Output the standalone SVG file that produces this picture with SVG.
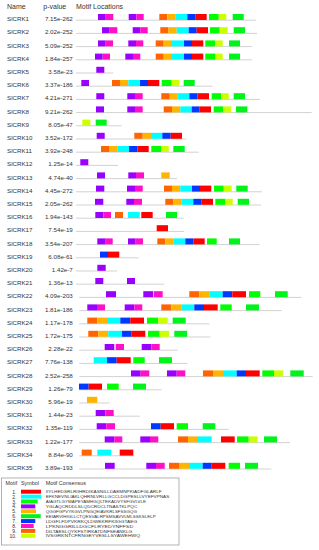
<svg xmlns="http://www.w3.org/2000/svg" width="319" height="550" viewBox="0 0 319 550">
<style>
text{font-family:"Liberation Sans",Arial,sans-serif;fill:#333}
.h{font-size:7px}
.n{font-size:6.2px}
.v{font-size:6.2px;text-anchor:end}
.ln{stroke:#d2d2d2;stroke-width:1}
.m1{fill:#ff0000}.m2{fill:#00ffff}.m3{fill:#00ff00}.m4{fill:#9a00ff}.m5{fill:#ffb400}
.m6{fill:#00f31a}.m7{fill:#0038ff}.m8{fill:#ff10c8}.m9{fill:#ff6400}.m10{fill:#ccff00}
.lh{font-size:5.4px}
.ln2{font-size:5px;text-anchor:end}
.sq{font-size:4.2px}
</style>
<rect width="319" height="550" fill="#fff"/>
<g id="header">
<text class="h" x="7" y="9">Name</text>
<text class="h" x="43.3" y="9">p-value</text>
<text class="h" x="76" y="9">Motif Locations</text>
</g>
<g id="connectors"></g>

<g id="SlCRK1" transform="translate(0,14)">
<text class="n" x="7" y="7.3">SlCRK1</text><text class="v" x="72.8" y="7.3">7.15e-262</text>
<line class="ln" x1="76" y1="6.2" x2="256" y2="6.2"/>
<rect class="m4" x="98" y="0" width="7.7" height="6"/><rect class="m8" x="105.7" y="0" width="7.6" height="6"/>
<rect class="m4" x="128.7" y="0" width="7.6" height="6"/><rect class="m8" x="136.3" y="0" width="7.4" height="6"/>
<rect class="m9" x="159.3" y="0" width="8" height="6"/><rect class="m5" x="167.3" y="0" width="8" height="6"/><rect class="m2" x="175.3" y="0" width="12" height="6"/><rect class="m7" x="187.3" y="0" width="8.4" height="6"/><rect class="m1" x="195.7" y="0" width="11" height="6"/>
<rect class="m3" x="209" y="0" width="9.7" height="6"/><rect class="m10" x="218.7" y="0" width="7.6" height="6"/><rect class="m6" x="232.7" y="0" width="11" height="6"/>
</g>
<g id="SlCRK2" transform="translate(0,27.2)">
<text class="n" x="7" y="7.3">SlCRK2</text><text class="v" x="72.8" y="7.3">2.02e-252</text>
<line class="ln" x1="76" y1="6.2" x2="257" y2="6.2"/>
<rect class="m4" x="102" y="0" width="7.7" height="6"/><rect class="m8" x="109.7" y="0" width="7.6" height="6"/>
<rect class="m4" x="132.7" y="0" width="7.6" height="6"/><rect class="m8" x="140.3" y="0" width="7.4" height="6"/>
<rect class="m9" x="160.3" y="0" width="8" height="6"/><rect class="m5" x="168.3" y="0" width="8.4" height="6"/><rect class="m2" x="176.7" y="0" width="12" height="6"/><rect class="m7" x="188.7" y="0" width="8" height="6"/><rect class="m1" x="196.7" y="0" width="11.3" height="6"/>
<rect class="m3" x="210" y="0" width="9.7" height="6"/><rect class="m10" x="219.7" y="0" width="8" height="6"/><rect class="m6" x="233.7" y="0" width="11.3" height="6"/>
</g>
<g id="SlCRK3" transform="translate(0,40.4)">
<text class="n" x="7" y="7.3">SlCRK3</text><text class="v" x="72.8" y="7.3">5.09e-252</text>
<line class="ln" x1="76" y1="6.2" x2="252" y2="6.2"/>
<rect class="m4" x="98" y="0" width="7.7" height="6"/><rect class="m8" x="105.7" y="0" width="7.3" height="6"/>
<rect class="m4" x="128.3" y="0" width="7.7" height="6"/><rect class="m8" x="136" y="0" width="7.3" height="6"/>
<rect class="m9" x="155.7" y="0" width="8" height="6"/><rect class="m5" x="163.7" y="0" width="8.3" height="6"/><rect class="m2" x="172" y="0" width="12" height="6"/><rect class="m7" x="184" y="0" width="8" height="6"/><rect class="m1" x="192" y="0" width="11.3" height="6"/>
<rect class="m3" x="205.3" y="0" width="9.7" height="6"/><rect class="m10" x="215" y="0" width="7.7" height="6"/><rect class="m6" x="229" y="0" width="11" height="6"/>
</g>
<g id="SlCRK4" transform="translate(0,53.6)">
<text class="n" x="7" y="7.3">SlCRK4</text><text class="v" x="72.8" y="7.3">1.84e-257</text>
<line class="ln" x1="76" y1="6.2" x2="252" y2="6.2"/>
<rect class="m4" x="95" y="0" width="7.7" height="6"/><rect class="m8" x="102.7" y="0" width="7.3" height="6"/>
<rect class="m4" x="125.3" y="0" width="7.7" height="6"/><rect class="m8" x="133" y="0" width="7.3" height="6"/>
<rect class="m9" x="155.7" y="0" width="8" height="6"/><rect class="m5" x="163.7" y="0" width="8.3" height="6"/><rect class="m2" x="172" y="0" width="12" height="6"/><rect class="m7" x="184" y="0" width="8" height="6"/><rect class="m1" x="192" y="0" width="11.3" height="6"/>
<rect class="m3" x="205.3" y="0" width="9.7" height="6"/><rect class="m10" x="215" y="0" width="7.7" height="6"/><rect class="m6" x="229" y="0" width="11" height="6"/>
</g>
<g id="SlCRK5" transform="translate(0,66.8)">
<text class="n" x="7" y="7.3">SlCRK5</text><text class="v" x="72.8" y="7.3">3.58e-23</text>
<line class="ln" x1="76" y1="6.2" x2="113.3" y2="6.2"/>
<rect class="m4" x="96.3" y="0" width="8" height="6"/>
</g>
<g id="SlCRK6" transform="translate(0,80)">
<text class="n" x="7" y="7.3">SlCRK6</text><text class="v" x="72.8" y="7.3">3.37e-186</text>
<line class="ln" x1="76" y1="6.2" x2="212.5" y2="6.2"/>
<rect class="m4" x="81.3" y="0" width="7.7" height="6"/>
<rect class="m9" x="112" y="0" width="8" height="6"/><rect class="m5" x="120" y="0" width="8.3" height="6"/><rect class="m2" x="128.3" y="0" width="11.7" height="6"/><rect class="m7" x="140" y="0" width="8" height="6"/><rect class="m1" x="148" y="0" width="11.3" height="6"/>
<rect class="m3" x="161.7" y="0" width="10" height="6"/><rect class="m10" x="171.7" y="0" width="7.6" height="6"/><rect class="m6" x="183.7" y="0" width="11" height="6"/>
</g>
<g id="SlCRK7" transform="translate(0,93.2)">
<text class="n" x="7" y="7.3">SlCRK7</text><text class="v" x="72.8" y="7.3">4.21e-271</text>
<line class="ln" x1="76" y1="6.2" x2="260" y2="6.2"/>
<rect class="m4" x="96.3" y="0" width="8" height="6"/>
<rect class="m4" x="127.3" y="0" width="7.7" height="6"/><rect class="m8" x="135" y="0" width="7.7" height="6"/>
<rect class="m9" x="161.3" y="0" width="8.4" height="6"/><rect class="m5" x="169.7" y="0" width="8" height="6"/><rect class="m2" x="177.7" y="0" width="11.6" height="6"/><rect class="m7" x="189.3" y="0" width="8" height="6"/><rect class="m1" x="197.3" y="0" width="11.7" height="6"/>
<rect class="m3" x="211.7" y="0" width="9.6" height="6"/><rect class="m10" x="221.3" y="0" width="7.4" height="6"/><rect class="m6" x="233.7" y="0" width="11.3" height="6"/>
</g>
<g id="SlCRK8" transform="translate(0,106.4)">
<text class="n" x="7" y="7.3">SlCRK8</text><text class="v" x="72.8" y="7.3">9.21e-262</text>
<line class="ln" x1="76" y1="6.2" x2="311.7" y2="6.2"/>
<rect class="m4" x="96" y="0" width="8" height="6"/>
<rect class="m4" x="127.3" y="0" width="7.7" height="6"/><rect class="m8" x="135" y="0" width="7.7" height="6"/>
<rect class="m9" x="163.7" y="0" width="8.3" height="6"/><rect class="m5" x="172" y="0" width="8.3" height="6"/><rect class="m2" x="180.3" y="0" width="11.4" height="6"/><rect class="m7" x="191.7" y="0" width="8" height="6"/><rect class="m1" x="199.7" y="0" width="11.3" height="6"/>
<rect class="m3" x="213.7" y="0" width="9.6" height="6"/><rect class="m10" x="223.3" y="0" width="8" height="6"/><rect class="m6" x="236" y="0" width="11.3" height="6"/>
</g>
<g id="SlCRK9" transform="translate(0,119.6)">
<text class="n" x="7" y="7.3">SlCRK9</text><text class="v" x="72.8" y="7.3">8.05e-47</text>
<line class="ln" x1="76" y1="6.2" x2="121.7" y2="6.2"/>
<rect class="m10" x="82.3" y="0" width="8" height="6"/><rect class="m6" x="95.7" y="0" width="11" height="6"/>
</g>
<g id="SlCRK10" transform="translate(0,132.8)">
<text class="n" x="7" y="7.3">SlCRK10</text><text class="v" x="72.8" y="7.3">3.52e-172</text>
<line class="ln" x1="76" y1="6.2" x2="186.3" y2="6.2"/>
<rect class="m4" x="96.7" y="0" width="8" height="6"/>
<rect class="m9" x="134.3" y="0" width="8.4" height="6"/><rect class="m5" x="142.7" y="0" width="8.3" height="6"/><rect class="m2" x="151" y="0" width="11.3" height="6"/><rect class="m7" x="162.3" y="0" width="8.4" height="6"/><rect class="m1" x="170.7" y="0" width="11.3" height="6"/>
</g>
<g id="SlCRK11" transform="translate(0,146)">
<text class="n" x="7" y="7.3">SlCRK11</text><text class="v" x="72.8" y="7.3">3.92e-248</text>
<line class="ln" x1="76" y1="6.2" x2="198.7" y2="6.2"/>
<rect class="m9" x="101" y="0" width="8" height="6"/><rect class="m5" x="109" y="0" width="8.3" height="6"/><rect class="m2" x="117.3" y="0" width="11.7" height="6"/><rect class="m7" x="129" y="0" width="8.3" height="6"/><rect class="m1" x="137.3" y="0" width="11.4" height="6"/>
<rect class="m3" x="151.3" y="0" width="9.7" height="6"/><rect class="m10" x="161" y="0" width="7.7" height="6"/><rect class="m6" x="173.3" y="0" width="11.4" height="6"/>
</g>
<g id="SlCRK12" transform="translate(0,159.2)">
<text class="n" x="7" y="7.3">SlCRK12</text><text class="v" x="72.8" y="7.3">1.25e-14</text>
<line class="ln" x1="76" y1="6.2" x2="118" y2="6.2"/>
<rect class="m4" x="80.3" y="0" width="8" height="6"/>
</g>
<g id="SlCRK13" transform="translate(0,172.4)">
<text class="n" x="7" y="7.3">SlCRK13</text><text class="v" x="72.8" y="7.3">4.74e-40</text>
<line class="ln" x1="76" y1="6.2" x2="177" y2="6.2"/>
<rect class="m4" x="97" y="0" width="8" height="6"/>
<rect class="m4" x="128.3" y="0" width="7.7" height="6"/><rect class="m8" x="136" y="0" width="8" height="6"/>
<rect class="m5" x="161.3" y="0" width="8.4" height="6"/>
</g>
<g id="SlCRK14" transform="translate(0,185.6)">
<text class="n" x="7" y="7.3">SlCRK14</text><text class="v" x="72.8" y="7.3">4.45e-272</text>
<line class="ln" x1="76" y1="6.2" x2="262" y2="6.2"/>
<rect class="m4" x="96" y="0" width="8.3" height="6"/>
<rect class="m4" x="127" y="0" width="8" height="6"/><rect class="m8" x="135" y="0" width="7.7" height="6"/>
<rect class="m9" x="164" y="0" width="8" height="6"/><rect class="m5" x="172" y="0" width="8.3" height="6"/><rect class="m2" x="180.3" y="0" width="11.7" height="6"/><rect class="m7" x="192" y="0" width="8" height="6"/><rect class="m1" x="200" y="0" width="11.3" height="6"/>
<rect class="m3" x="214" y="0" width="9.7" height="6"/><rect class="m10" x="223.7" y="0" width="8" height="6"/><rect class="m6" x="236.3" y="0" width="11.4" height="6"/>
</g>
<g id="SlCRK15" transform="translate(0,198.8)">
<text class="n" x="7" y="7.3">SlCRK15</text><text class="v" x="72.8" y="7.3">2.05e-262</text>
<line class="ln" x1="76" y1="6.2" x2="261" y2="6.2"/>
<rect class="m4" x="95" y="0" width="8.3" height="6"/>
<rect class="m4" x="126.3" y="0" width="7.7" height="6"/><rect class="m8" x="134" y="0" width="8" height="6"/>
<rect class="m9" x="165.3" y="0" width="8" height="6"/><rect class="m5" x="173.3" y="0" width="8.4" height="6"/><rect class="m2" x="181.7" y="0" width="11.6" height="6"/><rect class="m7" x="193.3" y="0" width="8.4" height="6"/><rect class="m1" x="201.7" y="0" width="11.3" height="6"/>
<rect class="m3" x="215.3" y="0" width="9.7" height="6"/><rect class="m10" x="225" y="0" width="7.7" height="6"/><rect class="m6" x="237.7" y="0" width="11.3" height="6"/>
</g>
<g id="SlCRK16" transform="translate(0,212)">
<text class="n" x="7" y="7.3">SlCRK16</text><text class="v" x="72.8" y="7.3">1.94e-143</text>
<line class="ln" x1="76" y1="6.2" x2="183.7" y2="6.2"/>
<rect class="m4" x="95.3" y="0" width="8" height="6"/><rect class="m8" x="103.3" y="0" width="7.7" height="6"/>
<rect class="m9" x="115" y="0" width="8" height="6"/><rect class="m2" x="128" y="0" width="11.7" height="6"/><rect class="m1" x="141.3" y="0" width="11.4" height="6"/>
<rect class="m6" x="166" y="0" width="11" height="6"/>
</g>
<g id="SlCRK17" transform="translate(0,225.2)">
<text class="n" x="7" y="7.3">SlCRK17</text><text class="v" x="72.8" y="7.3">7.54e-19</text>
<line class="ln" x1="76" y1="6.2" x2="184.3" y2="6.2"/>
<rect class="m1" x="156.7" y="0" width="11.3" height="6"/>
</g>
<g id="SlCRK18" transform="translate(0,238.4)">
<text class="n" x="7" y="7.3">SlCRK18</text><text class="v" x="72.8" y="7.3">3.54e-207</text>
<line class="ln" x1="76" y1="6.2" x2="259.3" y2="6.2"/>
<rect class="m4" x="97.3" y="0" width="8.4" height="6"/><rect class="m8" x="105.7" y="0" width="7" height="6"/>
<rect class="m4" x="128" y="0" width="7.7" height="6"/><rect class="m8" x="135.7" y="0" width="7.3" height="6"/>
<rect class="m9" x="157.3" y="0" width="8" height="6"/><rect class="m5" x="165.3" y="0" width="8.4" height="6"/><rect class="m2" x="173.7" y="0" width="11.6" height="6"/><rect class="m7" x="185.3" y="0" width="8" height="6"/><rect class="m1" x="193.3" y="0" width="11.4" height="6"/>
<rect class="m3" x="207" y="0" width="9.7" height="6"/><rect class="m6" x="229" y="0" width="11" height="6"/>
</g>
<g id="SlCRK19" transform="translate(0,251.6)">
<text class="n" x="7" y="7.3">SlCRK19</text><text class="v" x="72.8" y="7.3">6.08e-61</text>
<line class="ln" x1="76" y1="6.2" x2="138.7" y2="6.2"/>
<rect class="m7" x="100" y="0" width="8" height="6"/><rect class="m1" x="108" y="0" width="11.3" height="6"/>
</g>
<g id="SlCRK20" transform="translate(0,264.8)">
<text class="n" x="7" y="7.3">SlCRK20</text><text class="v" x="72.8" y="7.3">1.42e-7</text>
<line class="ln" x1="76" y1="6.2" x2="117" y2="6.2"/>
<rect class="m4" x="97.3" y="0" width="8.4" height="6"/>
</g>
<g id="SlCRK21" transform="translate(0,278)">
<text class="n" x="7" y="7.3">SlCRK21</text><text class="v" x="72.8" y="7.3">1.36e-13</text>
<line class="ln" x1="76" y1="6.2" x2="164.3" y2="6.2"/>
<rect class="m4" x="95.3" y="0" width="8" height="6"/><rect class="m4" x="127" y="0" width="8" height="6"/>
</g>
<g id="SlCRK22" transform="translate(0,291.2)">
<text class="n" x="7" y="7.3">SlCRK22</text><text class="v" x="72.8" y="7.3">4.09e-203</text>
<line class="ln" x1="79.3" y1="6.2" x2="301.3" y2="6.2"/>
<rect class="m4" x="106" y="0" width="10" height="6"/>
<rect class="m4" x="143.3" y="0" width="10" height="6"/><rect class="m8" x="154" y="0" width="8.7" height="6"/>
<rect class="m9" x="189.3" y="0" width="10" height="6"/><rect class="m5" x="199.3" y="0" width="10" height="6"/><rect class="m2" x="209.3" y="0" width="13.4" height="6"/><rect class="m7" x="222.7" y="0" width="9.6" height="6"/><rect class="m1" x="232.3" y="0" width="13.7" height="6"/>
<rect class="m3" x="249" y="0" width="11.3" height="6"/><rect class="m6" x="275" y="0" width="12.7" height="6"/>
</g>
<g id="SlCRK23" transform="translate(0,304.4)">
<text class="n" x="7" y="7.3">SlCRK23</text><text class="v" x="72.8" y="7.3">1.81e-186</text>
<line class="ln" x1="79.3" y1="6.2" x2="281.7" y2="6.2"/>
<rect class="m4" x="87.3" y="0" width="9.7" height="6"/><rect class="m8" x="97" y="0" width="8" height="6"/>
<rect class="m4" x="124.7" y="0" width="9.6" height="6"/><rect class="m8" x="134.3" y="0" width="8" height="6"/>
<rect class="m9" x="161.3" y="0" width="10" height="6"/><rect class="m5" x="171.3" y="0" width="10" height="6"/><rect class="m2" x="181.3" y="0" width="13" height="6"/><rect class="m7" x="194.3" y="0" width="9.7" height="6"/><rect class="m1" x="204" y="0" width="13.7" height="6"/>
<rect class="m3" x="220.3" y="0" width="11.4" height="6"/><rect class="m6" x="246" y="0" width="13" height="6"/>
</g>
<g id="SlCRK24" transform="translate(0,317.6)">
<text class="n" x="7" y="7.3">SlCRK24</text><text class="v" x="72.8" y="7.3">1.17e-178</text>
<line class="ln" x1="79.3" y1="6.2" x2="209.3" y2="6.2"/>
<rect class="m9" x="87.3" y="0" width="10" height="6"/><rect class="m5" x="97.3" y="0" width="9.7" height="6"/><rect class="m2" x="107" y="0" width="13.3" height="6"/><rect class="m7" x="120.3" y="0" width="10" height="6"/><rect class="m1" x="130.3" y="0" width="13.7" height="6"/>
<rect class="m3" x="147" y="0" width="11.3" height="6"/><rect class="m10" x="158.3" y="0" width="9.4" height="6"/><rect class="m6" x="172.7" y="0" width="13" height="6"/>
</g>
<g id="SlCRK25" transform="translate(0,330.8)">
<text class="n" x="7" y="7.3">SlCRK25</text><text class="v" x="72.8" y="7.3">1.72e-175</text>
<line class="ln" x1="79.3" y1="6.2" x2="210.3" y2="6.2"/>
<rect class="m9" x="88.3" y="0" width="10" height="6"/><rect class="m5" x="98.3" y="0" width="10" height="6"/><rect class="m2" x="108.3" y="0" width="13.7" height="6"/><rect class="m7" x="122" y="0" width="9.7" height="6"/><rect class="m1" x="131.7" y="0" width="13.6" height="6"/>
<rect class="m3" x="148" y="0" width="11.7" height="6"/><rect class="m10" x="159.7" y="0" width="9.3" height="6"/><rect class="m6" x="174.3" y="0" width="12.7" height="6"/>
</g>
<g id="SlCRK26" transform="translate(0,344)">
<text class="n" x="7" y="7.3">SlCRK26</text><text class="v" x="72.8" y="7.3">2.28e-22</text>
<line class="ln" x1="79.3" y1="6.2" x2="177.7" y2="6.2"/>
<rect class="m4" x="104.7" y="0" width="9.6" height="6"/><rect class="m8" x="115.7" y="0" width="8.3" height="6"/>
<rect class="m4" x="141.7" y="0" width="9.6" height="6"/><rect class="m8" x="151.3" y="0" width="8.4" height="6"/>
</g>
<g id="SlCRK27" transform="translate(0,357.2)">
<text class="n" x="7" y="7.3">SlCRK27</text><text class="v" x="72.8" y="7.3">7.76e-138</text>
<line class="ln" x1="79.3" y1="6.2" x2="187.3" y2="6.2"/>
<rect class="m2" x="93.7" y="0" width="13.3" height="6"/><rect class="m7" x="107" y="0" width="9.7" height="6"/><rect class="m1" x="116.7" y="0" width="14" height="6"/>
<rect class="m3" x="133.3" y="0" width="11.4" height="6"/><rect class="m6" x="159" y="0" width="13" height="6"/>
</g>
<g id="SlCRK28" transform="translate(0,370.4)">
<text class="n" x="7" y="7.3">SlCRK28</text><text class="v" x="72.8" y="7.3">2.52e-258</text>
<line class="ln" x1="79.3" y1="6.2" x2="312.7" y2="6.2"/>
<rect class="m4" x="131" y="0" width="9.7" height="6"/><rect class="m8" x="140.7" y="0" width="8.6" height="6"/>
<rect class="m4" x="167" y="0" width="9.7" height="6"/><rect class="m8" x="176.7" y="0" width="8.6" height="6"/>
<rect class="m9" x="203" y="0" width="10" height="6"/><rect class="m5" x="213" y="0" width="10" height="6"/><rect class="m2" x="223" y="0" width="13.7" height="6"/><rect class="m7" x="236.7" y="0" width="9.3" height="6"/><rect class="m1" x="246" y="0" width="13.7" height="6"/>
<rect class="m3" x="262.3" y="0" width="11.7" height="6"/><rect class="m10" x="274" y="0" width="9.3" height="6"/><rect class="m6" x="290.3" y="0" width="13.4" height="6"/>
</g>
<g id="SlCRK29" transform="translate(0,383.6)">
<text class="n" x="7" y="7.3">SlCRK29</text><text class="v" x="72.8" y="7.3">1.26e-79</text>
<line class="ln" x1="79.3" y1="6.2" x2="161.7" y2="6.2"/>
<rect class="m7" x="79" y="0" width="9.7" height="6"/><rect class="m1" x="88.7" y="0" width="13.3" height="6"/>
<rect class="m3" x="107" y="0" width="11.7" height="6"/><rect class="m6" x="133" y="0" width="13" height="6"/>
</g>
<g id="SlCRK30" transform="translate(0,396.8)">
<text class="n" x="7" y="7.3">SlCRK30</text><text class="v" x="72.8" y="7.3">5.96e-19</text>
<line class="ln" x1="79.3" y1="6.2" x2="109.7" y2="6.2"/>
<rect class="m5" x="87" y="0" width="10.3" height="6"/>
</g>
<g id="SlCRK31" transform="translate(0,410)">
<text class="n" x="7" y="7.3">SlCRK31</text><text class="v" x="72.8" y="7.3">1.44e-23</text>
<line class="ln" x1="79.3" y1="6.2" x2="139.7" y2="6.2"/>
<rect class="m4" x="95.7" y="0" width="9.6" height="6"/><rect class="m8" x="105.3" y="0" width="8.4" height="6"/>
</g>
<g id="SlCRK32" transform="translate(0,423.2)">
<text class="n" x="7" y="7.3">SlCRK32</text><text class="v" x="72.8" y="7.3">1.35e-119</text>
<line class="ln" x1="79.3" y1="6.2" x2="228.7" y2="6.2"/>
<rect class="m4" x="96.7" y="0" width="9.6" height="6"/><rect class="m8" x="106.3" y="0" width="8.7" height="6"/>
<rect class="m7" x="151" y="0" width="9.7" height="6"/><rect class="m1" x="160.7" y="0" width="13.3" height="6"/>
<rect class="m3" x="176.7" y="0" width="11.3" height="6"/><rect class="m6" x="202.7" y="0" width="12.6" height="6"/>
</g>
<g id="SlCRK33" transform="translate(0,436.4)">
<text class="n" x="7" y="7.3">SlCRK33</text><text class="v" x="72.8" y="7.3">1.22e-177</text>
<line class="ln" x1="79.3" y1="6.2" x2="290" y2="6.2"/>
<rect class="m4" x="104.7" y="0" width="9.6" height="6"/><rect class="m8" x="114.3" y="0" width="8" height="6"/>
<rect class="m4" x="140.3" y="0" width="9.7" height="6"/><rect class="m8" x="150" y="0" width="8.3" height="6"/>
<rect class="m9" x="178" y="0" width="10" height="6"/><rect class="m5" x="188" y="0" width="10" height="6"/><rect class="m2" x="198" y="0" width="13.7" height="6"/><rect class="m1" x="221" y="0" width="13.7" height="6"/>
<rect class="m3" x="237" y="0" width="11.7" height="6"/><rect class="m10" x="248.7" y="0" width="9" height="6"/><rect class="m6" x="264" y="0" width="13" height="6"/>
</g>
<g id="SlCRK34" transform="translate(0,449.6)">
<text class="n" x="7" y="7.3">SlCRK34</text><text class="v" x="72.8" y="7.3">8.84e-90</text>
<line class="ln" x1="79.3" y1="6.2" x2="134.3" y2="6.2"/>
<rect class="m9" x="81.7" y="0" width="10" height="6"/><rect class="m2" x="97.3" y="0" width="14" height="6"/><rect class="m1" x="119.7" y="0" width="13.6" height="6"/>
</g>
<g id="SlCRK35" transform="translate(0,462.8)">
<text class="n" x="7" y="7.3">SlCRK35</text><text class="v" x="72.8" y="7.3">3.89e-193</text>
<line class="ln" x1="79.3" y1="6.2" x2="271.3" y2="6.2"/>
<rect class="m4" x="105" y="0" width="9.7" height="6"/>
<rect class="m4" x="146.3" y="0" width="9.7" height="6"/><rect class="m8" x="156" y="0" width="8.7" height="6"/>
<rect class="m9" x="169" y="0" width="10" height="6"/><rect class="m5" x="179" y="0" width="10" height="6"/><rect class="m2" x="189" y="0" width="13.7" height="6"/><rect class="m7" x="202.7" y="0" width="9" height="6"/><rect class="m1" x="211.7" y="0" width="13.6" height="6"/>
<rect class="m3" x="228.7" y="0" width="11.3" height="6"/><rect class="m6" x="245" y="0" width="13" height="6"/>
</g>

<g id="legend">
<rect x="1.5" y="478" width="177.5" height="67" fill="#fff" stroke="#a0a0a0" stroke-width="0.8"/>
<text class="lh" x="5.5" y="485.3">Motif</text>
<text class="lh" x="21" y="485.3">Symbol</text>
<text class="lh" x="45.7" y="485.3">Motif Consensus</text>
<g transform="translate(0,489.7)">
<text class="ln2" x="16.5" y="4">1.</text><rect class="m1" x="21" y="0" width="20" height="4"/><text class="sq" x="45.7" y="3.6" textLength="116" lengthAdjust="spacingAndGlyphs">IIYLHEDSRLRIIHRDIKASNILLDAEMNPKIADFGLARLF</text>
</g>
<g transform="translate(0,494.6)">
<text class="ln2" x="16.5" y="4">2.</text><rect class="m2" x="21" y="0" width="20.3" height="4"/><text class="sq" x="45.7" y="3.6" textLength="123.6" lengthAdjust="spacingAndGlyphs">EFKNEVNLIAKLQHRNLVRLLGCCLDGPESLLVYEFVPNAS</text>
</g>
<g transform="translate(0,499.5)">
<text class="ln2" x="16.5" y="4">3.</text><rect class="m3" x="21" y="0" width="16.7" height="4"/><text class="sq" x="45.7" y="3.6" textLength="100.3" lengthAdjust="spacingAndGlyphs">AIAGTLGYMAPEYAMHGQLTEKADVYSFGVLVLE</text>
</g>
<g transform="translate(0,504.4)">
<text class="ln2" x="16.5" y="4">4.</text><rect class="m4" x="21" y="0" width="14.3" height="4"/><text class="sq" x="45.7" y="3.6" textLength="91.6" lengthAdjust="spacingAndGlyphs">YGLAQCRDDLSLQDCRDCLTNASTKLPQC</text>
</g>
<g transform="translate(0,509.3)">
<text class="ln2" x="16.5" y="4">5.</text><rect class="m5" x="21" y="0" width="15" height="4"/><text class="sq" x="45.7" y="3.6" textLength="91.3" lengthAdjust="spacingAndGlyphs">QGGFGPVYKGVLPNGQEIAVKRLSFSSGQG</text>
</g>
<g transform="translate(0,514.2)">
<text class="ln2" x="16.5" y="4">6.</text><rect class="m6" x="21" y="0" width="19.7" height="4"/><text class="sq" x="45.7" y="3.6" textLength="110" lengthAdjust="spacingAndGlyphs">EEIARVIHIGLLCTQESVALRPSMSAVVLMLSSKSLELP</text>
</g>
<g transform="translate(0,519.1)">
<text class="ln2" x="16.5" y="4">7.</text><rect class="m7" x="21" y="0" width="14.3" height="4"/><text class="sq" x="45.7" y="3.6" textLength="91.6" lengthAdjust="spacingAndGlyphs">LDGFLFDPVKRKQLDWEKRFKIIGGTAEG</text>
</g>
<g transform="translate(0,524)">
<text class="ln2" x="16.5" y="4">8.</text><rect class="m8" x="21" y="0" width="12.7" height="4"/><text class="sq" x="45.7" y="3.6" textLength="87.6" lengthAdjust="spacingAndGlyphs">LPKNGGRILLDGCFLRYEDYNFFSD</text>
</g>
<g transform="translate(0,528.9)">
<text class="ln2" x="16.5" y="4">9.</text><rect class="m9" x="21" y="0" width="14.3" height="4"/><text class="sq" x="45.7" y="3.6" textLength="86.6" lengthAdjust="spacingAndGlyphs">DILTAESLQYKFSTIRKATDNFSEANKLG</text>
</g>
<g transform="translate(0,533.8)">
<text class="ln2" x="16.5" y="4">10.</text><rect class="m10" x="21" y="0" width="14.3" height="4"/><text class="sq" x="45.7" y="3.6" textLength="94.3" lengthAdjust="spacingAndGlyphs">IVSGRKNTCFRNGEYVESLLSYAWEHWQ</text>
</g>
</g>
</svg>
